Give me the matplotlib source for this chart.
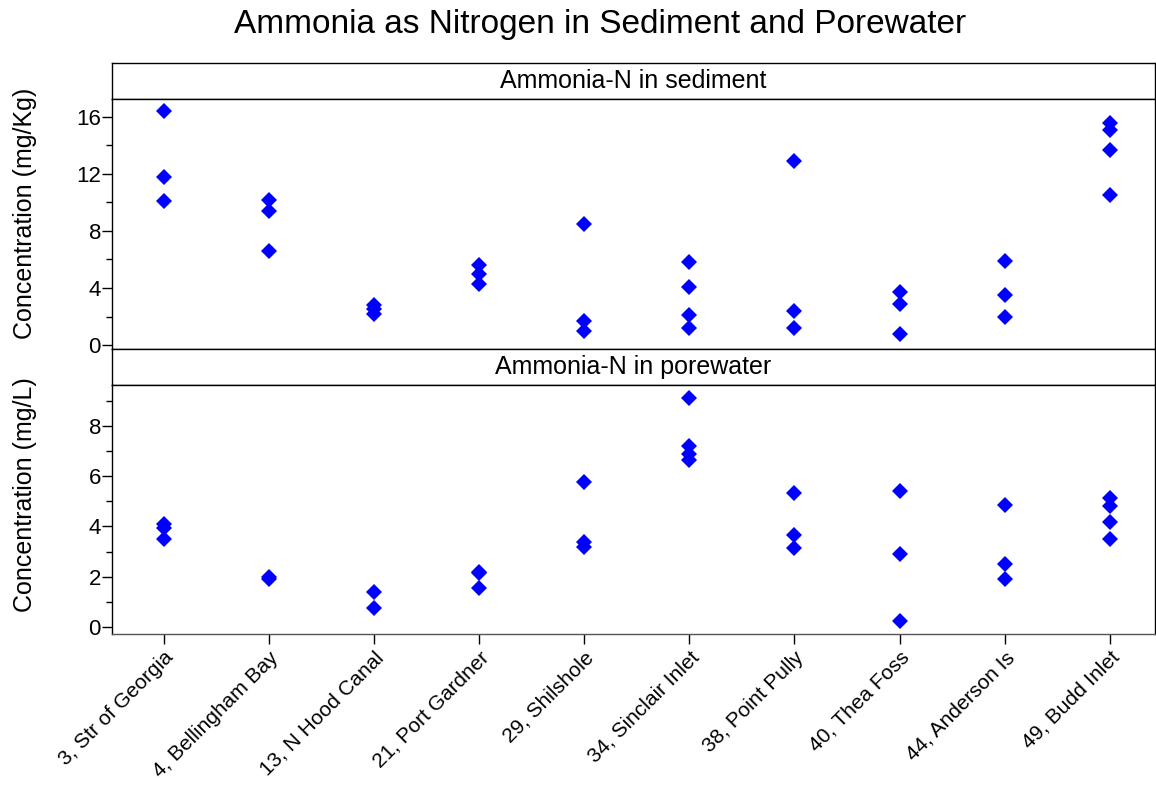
import numpy as np
import matplotlib
matplotlib.use("Agg")
import matplotlib.pyplot as plt
from matplotlib.ticker import MultipleLocator

plt.rcParams['font.family'] = ['Liberation Sans', 'DejaVu Sans']

# Sampling stations
sites = ["3, Str of Georgia", "4, Bellingham Bay", "13, N Hood Canal", "21, Port Gardner",
         "29, Shilshole", "34, Sinclair Inlet", "38, Point Pully", "40, Thea Foss",
         "44, Anderson Is", "49, Budd Inlet"]

# Ammonia-N in sediment (mg/Kg), replicates per station
sediment = [
    [16.4, 11.8, 10.1],
    [10.2, 9.4, 6.6],
    [2.8, 2.5, 2.2],
    [5.6, 5.0, 4.3],
    [8.5, 1.7, 1.0],
    [5.8, 4.1, 2.1, 1.2],
    [12.9, 2.4, 1.2],
    [3.7, 2.9, 0.8],
    [5.9, 3.5, 2.0],
    [15.6, 15.1, 13.7, 10.5],
]

# Ammonia-N in porewater (mg/L), replicates per station
porewater = [
    [4.1, 3.95, 3.5],
    [1.98, 1.9],
    [1.38, 0.74],
    [2.2, 2.14, 1.54],
    [5.75, 3.4, 3.2],
    [9.1, 7.2, 6.9, 6.65],
    [5.32, 3.66, 3.13],
    [5.43, 2.91, 0.24],
    [4.87, 2.5, 1.9],
    [5.12, 4.83, 4.19, 3.49],
]

W, H = 1156, 785
fig = plt.figure(figsize=(W / 100, H / 100), dpi=100)


def frac(x0, y0, x1, y1):
    # pixel box -> figure fraction [left, bottom, width, height]
    return [x0 / W, 1 - y1 / H, (x1 - x0) / W, (y1 - y0) / H]


def strip(box, text):
    ax = fig.add_axes(frac(*box))
    ax.set_xticks([])
    ax.set_yticks([])
    for s in ax.spines.values():
        s.set_linewidth(1.0)
        s.set_color("black")
    ax.text(0.5, 0.5, text, ha="center", va="center", fontsize=18, transform=ax.transAxes)
    return ax


def panel(box, data, ylim, major, minor):
    ax = fig.add_axes(frac(*box))
    for i, vals in enumerate(data):
        ax.plot([i] * len(vals), vals, linestyle="none", marker="D",
                color="#0000FF", markersize=8.4, markeredgewidth=0)
    ax.set_xlim(-0.49, 9.43)
    ax.set_ylim(*ylim)
    ax.yaxis.set_major_locator(MultipleLocator(major))
    ax.yaxis.set_minor_locator(MultipleLocator(minor))
    ax.tick_params(axis="y", which="major", direction="out", length=7, width=1,
                   labelsize=16, pad=1)
    ax.tick_params(axis="y", which="minor", direction="out", length=4, width=1)
    for s in ax.spines.values():
        s.set_linewidth(1.0)
        s.set_color("black")
    return ax


strip((112, 63, 1155, 99), "Ammonia-N in sediment")
ax1 = panel((112, 99, 1155, 349), sediment, (-0.28, 17.26), 4, 2)
ax1.set_xticks([])

strip((112, 349, 1155, 385), "Ammonia-N in porewater")
ax2 = panel((112, 385, 1155, 634), porewater, (-0.28, 9.63), 2, 1)
ax2.set_xticks(np.arange(len(sites)))
ax2.set_xticklabels(sites, rotation=45, ha="right", rotation_mode="anchor", fontsize=15)
ax2.tick_params(axis="x", direction="out", length=7, width=1, pad=3)
ax2.spines["bottom"].set_color("#555555")

fig.text(25 / W, 1 - 213 / H, "Concentration (mg/Kg)", rotation=90, ha="center",
         va="center", fontsize=18)
fig.text(25 / W, 1 - 495 / H, "Concentration (mg/L)", rotation=90, ha="center",
         va="center", fontsize=18)

fig.text(600 / W, 1 - 25 / H, "Ammonia as Nitrogen in Sediment and Porewater",
         ha="center", va="center", fontsize=24)

fig.savefig("out.png", dpi=100)
